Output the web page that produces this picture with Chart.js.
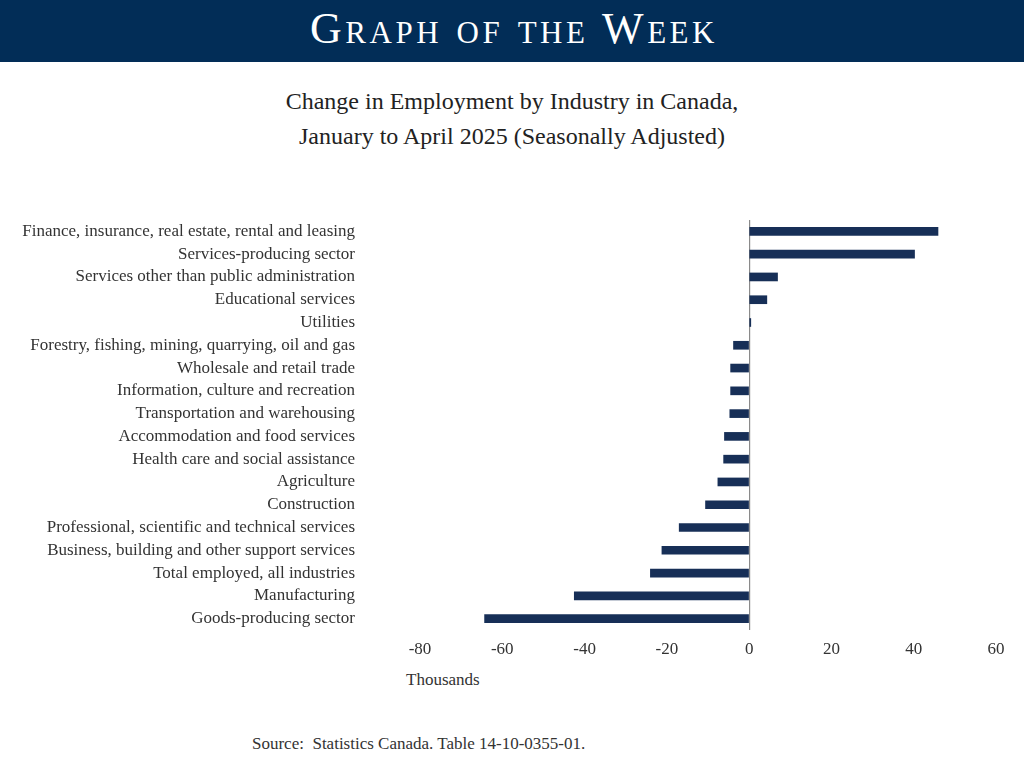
<!DOCTYPE html>
<html>
<head>
<meta charset="utf-8">
<script src="https://cdn.jsdelivr.net/npm/chart.js@4/dist/chart.umd.min.js"></script>
<style>
  html, body { margin: 0; padding: 0; background: #fff; }
  body { width: 1024px; height: 779px; position: relative; overflow: hidden; font-family: "Liberation Serif", "DejaVu Serif", serif; }
  .banner { position: absolute; left: 0; top: 0; width: 1024px; height: 62px; background: #022d57; color: #fff;
            text-align: center; font-size: 44px; line-height: 58px; font-variant: small-caps; letter-spacing: 3.5px; text-indent: 4px; }
  .title { position: absolute; left: 0; top: 84px; width: 1024px; text-align: center; color: #222; font-size: 24px; line-height: 35px; }
  .units { position: absolute; left: 406px; top: 670px; font-size: 17px; color: #333; }
  .source { position: absolute; left: 252px; top: 734px; font-size: 17px; color: #333; }
  #chart { position: absolute; left: 0; top: 200px; }
</style>
</head>
<body>
<div class="banner">Graph of the Week</div>
<div class="title">Change in Employment by Industry in Canada,<br>January to April 2025 (Seasonally Adjusted)</div>
<canvas id="chart" width="1024" height="470"></canvas>
<div class="units">Thousands</div>
<div class="source">Source:&nbsp; Statistics Canada. Table 14-10-0355-01.</div>
<script>
// industries, top to bottom
const industrias = [
  'Finance, insurance, real estate, rental and leasing',
  'Services-producing sector',
  'Services other than public administration',
  'Educational services',
  'Utilities',
  'Forestry, fishing, mining, quarrying, oil and gas',
  'Wholesale and retail trade',
  'Information, culture and recreation',
  'Transportation and warehousing',
  'Accommodation and food services',
  'Health care and social assistance',
  'Agriculture',
  'Construction',
  'Professional, scientific and technical services',
  'Business, building and other support services',
  'Total employed, all industries',
  'Manufacturing',
  'Goods-producing sector',
];

// change Jan -> Apr 2025, thousands
const variacao = [45.9, 40.2, 6.9, 4.3, 0.4, -3.8, -4.5, -4.5, -4.7, -6.0, -6.2, -7.6, -10.6, -17.0, -21.2, -24.0, -42.5, -64.3];

const xMin = -80, xMax = 60, xStep = 20;

const corBarra = '#172f57';
const corTexto = '#333333';

new Chart(document.getElementById('chart'), {
  type: 'bar',
  data: {
    labels: industrias,
    datasets: [{ data: variacao, backgroundColor: corBarra, borderWidth: 0, barThickness: 8 }],
  },
  options: {
    indexAxis: 'y',
    responsive: false,
    animation: false,
    layout: { padding: { left: 0, right: 28, top: 20, bottom: 0 } },
    plugins: { legend: { display: false }, tooltip: { enabled: false } },
    scales: {
      x: {
        min: xMin, max: xMax,
        ticks: { stepSize: xStep, color: corTexto, padding: 9, font: { family: 'Liberation Serif', size: 17 } },
        grid: {
          drawTicks: false,
          color: ctx => (ctx.tick && ctx.tick.value === 0 ? '#8a8a8a' : 'rgba(0,0,0,0)'),
          lineWidth: 1.2,
        },
        border: { display: false },
        afterFit: s => { s.height = 40; },
      },
      y: {
        ticks: { color: corTexto, padding: 65, autoSkip: false, font: { family: 'Liberation Serif', size: 17 } },
        grid: { display: false, drawTicks: false },
        border: { display: false },
        // o padding de 65 dos rótulos também vira padding vertical; zera aqui
        afterFit: s => { s.width = 420; s.paddingTop = 0; s.paddingBottom = 0; },
      },
    },
  },
});
</script>
</body>
</html>
